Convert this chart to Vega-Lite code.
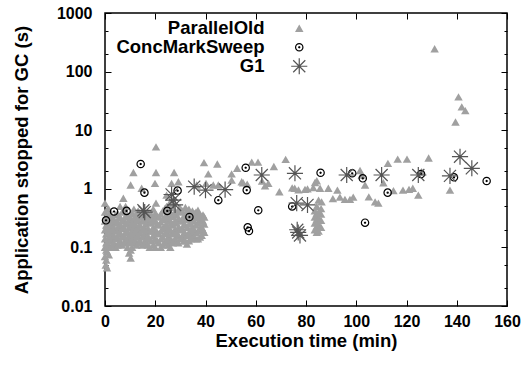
{
"$schema": "https://vega.github.io/schema/vega-lite/v6.json",
"width": 402, "height": 293,
"autosize": {"type": "none"},
"padding": {"left": 105, "top": 13, "right": 19, "bottom": 59},
"config": {
  "font": "Liberation Sans",
  "view": {"stroke": "#000", "strokeWidth": 1.5},
  "axis": {"domain": false, "grid": false, "tickColor": "#000", "tickWidth": 1, "labelColor": "#000", "titleColor": "#000", "labelFont": "Liberation Sans", "labelFontWeight": "bold", "labelFontSize": 16, "titleFont": "Liberation Sans", "titleFontWeight": "bold", "titleFontSize": 18.5},
  "legend": {"labelFont": "Liberation Sans"}
},
"datasets": {
  "frame": [{"min": 0, "sec": 1}],
  "gc": [
{"gc":"ParallelOld","min":0,"sec":0.07},{"gc":"ParallelOld","min":0,"sec":0.1},{"gc":"ParallelOld","min":0,"sec":0.14},{"gc":"ParallelOld","min":0,"sec":0.2},{"gc":"ParallelOld","min":0,"sec":0.28},{"gc":"ParallelOld","min":0,"sec":0.4},{"gc":"ParallelOld","min":0,"sec":0.57},
{"gc":"ParallelOld","min":0.3,"sec":0.05},{"gc":"ParallelOld","min":0.8,"sec":0.045},
{"gc":"ParallelOld","min":0.5,"sec":0.061},{"gc":"ParallelOld","min":0.5,"sec":0.09},{"gc":"ParallelOld","min":0.5,"sec":0.12},{"gc":"ParallelOld","min":0.5,"sec":0.17},{"gc":"ParallelOld","min":0.5,"sec":0.24},{"gc":"ParallelOld","min":0.5,"sec":0.33},
{"gc":"ParallelOld","min":0.8,"sec":0.085},{"gc":"ParallelOld","min":0.8,"sec":0.12},{"gc":"ParallelOld","min":0.8,"sec":0.17},{"gc":"ParallelOld","min":0.8,"sec":0.24},{"gc":"ParallelOld","min":0.8,"sec":0.34},
{"gc":"ParallelOld","min":1.5,"sec":0.075},{"gc":"ParallelOld","min":1.5,"sec":0.11},{"gc":"ParallelOld","min":1.5,"sec":0.15},{"gc":"ParallelOld","min":1.5,"sec":0.21},{"gc":"ParallelOld","min":1.5,"sec":0.3},{"gc":"ParallelOld","min":1.5,"sec":0.45},
{"gc":"ParallelOld","min":2,"sec":0.1},{"gc":"ParallelOld","min":2,"sec":0.14},{"gc":"ParallelOld","min":2,"sec":0.2},{"gc":"ParallelOld","min":2,"sec":0.28},{"gc":"ParallelOld","min":2,"sec":0.38},
{"gc":"ParallelOld","min":2.5,"sec":0.13},{"gc":"ParallelOld","min":2.5,"sec":0.18},{"gc":"ParallelOld","min":2.5,"sec":0.25},{"gc":"ParallelOld","min":2.5,"sec":0.35},
{"gc":"ParallelOld","min":3,"sec":0.11},{"gc":"ParallelOld","min":3,"sec":0.15},{"gc":"ParallelOld","min":3,"sec":0.21},{"gc":"ParallelOld","min":3,"sec":0.29},
{"gc":"ParallelOld","min":3.5,"sec":0.12},{"gc":"ParallelOld","min":3.5,"sec":0.16},{"gc":"ParallelOld","min":3.5,"sec":0.22},{"gc":"ParallelOld","min":3.5,"sec":0.3},
{"gc":"ParallelOld","min":4.2,"sec":0.1},{"gc":"ParallelOld","min":4.2,"sec":0.14},{"gc":"ParallelOld","min":4.2,"sec":0.19},{"gc":"ParallelOld","min":4.2,"sec":0.26},{"gc":"ParallelOld","min":4.2,"sec":0.36},
{"gc":"ParallelOld","min":5,"sec":0.11},{"gc":"ParallelOld","min":5,"sec":0.15},{"gc":"ParallelOld","min":5,"sec":0.2},{"gc":"ParallelOld","min":5,"sec":0.27},{"gc":"ParallelOld","min":5,"sec":0.38},
{"gc":"ParallelOld","min":5.5,"sec":0.12},{"gc":"ParallelOld","min":5.5,"sec":0.17},{"gc":"ParallelOld","min":5.5,"sec":0.23},{"gc":"ParallelOld","min":5.5,"sec":0.32},
{"gc":"ParallelOld","min":6,"sec":0.13},{"gc":"ParallelOld","min":6,"sec":0.18},{"gc":"ParallelOld","min":6,"sec":0.25},{"gc":"ParallelOld","min":6,"sec":0.33},{"gc":"ParallelOld","min":6,"sec":0.5},
{"gc":"ParallelOld","min":6.8,"sec":0.11},{"gc":"ParallelOld","min":6.8,"sec":0.15},{"gc":"ParallelOld","min":6.8,"sec":0.21},{"gc":"ParallelOld","min":6.8,"sec":0.28},{"gc":"ParallelOld","min":6.8,"sec":0.4},
{"gc":"ParallelOld","min":7.5,"sec":0.12},{"gc":"ParallelOld","min":7.5,"sec":0.16},{"gc":"ParallelOld","min":7.5,"sec":0.22},{"gc":"ParallelOld","min":7.5,"sec":0.3},{"gc":"ParallelOld","min":7.5,"sec":0.42},{"gc":"ParallelOld","min":7.3,"sec":0.69},
{"gc":"ParallelOld","min":8.2,"sec":0.13},{"gc":"ParallelOld","min":8.2,"sec":0.18},{"gc":"ParallelOld","min":8.2,"sec":0.25},{"gc":"ParallelOld","min":8.2,"sec":0.34},{"gc":"ParallelOld","min":8.2,"sec":0.5},
{"gc":"ParallelOld","min":9,"sec":0.1},{"gc":"ParallelOld","min":9,"sec":0.14},{"gc":"ParallelOld","min":9,"sec":0.19},{"gc":"ParallelOld","min":9,"sec":0.26},{"gc":"ParallelOld","min":9,"sec":0.36},
{"gc":"ParallelOld","min":9.6,"sec":0.08},{"gc":"ParallelOld","min":9.6,"sec":0.12},{"gc":"ParallelOld","min":9.6,"sec":0.16},{"gc":"ParallelOld","min":9.6,"sec":0.22},{"gc":"ParallelOld","min":9.6,"sec":0.3},
{"gc":"ParallelOld","min":10.2,"sec":0.066},{"gc":"ParallelOld","min":10.2,"sec":0.09},{"gc":"ParallelOld","min":10.2,"sec":0.13},{"gc":"ParallelOld","min":10.2,"sec":0.17},{"gc":"ParallelOld","min":10.2,"sec":0.24},{"gc":"ParallelOld","min":10.2,"sec":0.32},
{"gc":"ParallelOld","min":10.8,"sec":0.1},{"gc":"ParallelOld","min":10.8,"sec":0.14},{"gc":"ParallelOld","min":10.8,"sec":0.19},{"gc":"ParallelOld","min":10.8,"sec":0.27},{"gc":"ParallelOld","min":10.8,"sec":0.38},
{"gc":"ParallelOld","min":11.5,"sec":0.12},{"gc":"ParallelOld","min":11.5,"sec":0.16},{"gc":"ParallelOld","min":11.5,"sec":0.22},{"gc":"ParallelOld","min":11.5,"sec":0.3},{"gc":"ParallelOld","min":11.5,"sec":0.45},
{"gc":"ParallelOld","min":12,"sec":0.13},{"gc":"ParallelOld","min":12,"sec":0.18},{"gc":"ParallelOld","min":12,"sec":0.25},{"gc":"ParallelOld","min":12,"sec":0.34},
{"gc":"ParallelOld","min":12.5,"sec":0.11},{"gc":"ParallelOld","min":12.5,"sec":0.15},{"gc":"ParallelOld","min":12.5,"sec":0.2},{"gc":"ParallelOld","min":12.5,"sec":0.28},{"gc":"ParallelOld","min":12.5,"sec":0.38},
{"gc":"ParallelOld","min":13.2,"sec":0.12},{"gc":"ParallelOld","min":13.2,"sec":0.16},{"gc":"ParallelOld","min":13.2,"sec":0.22},{"gc":"ParallelOld","min":13.2,"sec":0.3},{"gc":"ParallelOld","min":13.2,"sec":0.42},
{"gc":"ParallelOld","min":14,"sec":0.13},{"gc":"ParallelOld","min":14,"sec":0.18},{"gc":"ParallelOld","min":14,"sec":0.24},{"gc":"ParallelOld","min":14,"sec":0.34},
{"gc":"ParallelOld","min":14.8,"sec":0.11},{"gc":"ParallelOld","min":14.8,"sec":0.15},{"gc":"ParallelOld","min":14.8,"sec":0.2},{"gc":"ParallelOld","min":14.8,"sec":0.28},{"gc":"ParallelOld","min":14.8,"sec":0.38},
{"gc":"ParallelOld","min":15.5,"sec":0.12},{"gc":"ParallelOld","min":15.5,"sec":0.16},{"gc":"ParallelOld","min":15.5,"sec":0.22},{"gc":"ParallelOld","min":15.5,"sec":0.3},
{"gc":"ParallelOld","min":16.2,"sec":0.13},{"gc":"ParallelOld","min":16.2,"sec":0.18},{"gc":"ParallelOld","min":16.2,"sec":0.25},{"gc":"ParallelOld","min":16.2,"sec":0.35},
{"gc":"ParallelOld","min":17,"sec":0.11},{"gc":"ParallelOld","min":17,"sec":0.15},{"gc":"ParallelOld","min":17,"sec":0.21},{"gc":"ParallelOld","min":17,"sec":0.29},{"gc":"ParallelOld","min":17,"sec":0.4},
{"gc":"ParallelOld","min":17.8,"sec":0.1},{"gc":"ParallelOld","min":17.8,"sec":0.14},{"gc":"ParallelOld","min":17.8,"sec":0.19},{"gc":"ParallelOld","min":17.8,"sec":0.26},{"gc":"ParallelOld","min":17.8,"sec":0.34},
{"gc":"ParallelOld","min":18.5,"sec":0.13},{"gc":"ParallelOld","min":18.5,"sec":0.19},{"gc":"ParallelOld","min":18.5,"sec":0.27},{"gc":"ParallelOld","min":18.5,"sec":0.36},
{"gc":"ParallelOld","min":19.2,"sec":0.11},{"gc":"ParallelOld","min":19.2,"sec":0.16},{"gc":"ParallelOld","min":19.2,"sec":0.22},{"gc":"ParallelOld","min":19.2,"sec":0.31},{"gc":"ParallelOld","min":19.2,"sec":0.45},
{"gc":"ParallelOld","min":20,"sec":0.1},{"gc":"ParallelOld","min":20,"sec":0.14},{"gc":"ParallelOld","min":20,"sec":0.2},{"gc":"ParallelOld","min":20,"sec":0.28},{"gc":"ParallelOld","min":20,"sec":0.38},{"gc":"ParallelOld","min":20.3,"sec":0.57},
{"gc":"ParallelOld","min":20.8,"sec":0.13},{"gc":"ParallelOld","min":20.8,"sec":0.18},{"gc":"ParallelOld","min":20.8,"sec":0.25},{"gc":"ParallelOld","min":20.8,"sec":0.34},
{"gc":"ParallelOld","min":21.5,"sec":0.12},{"gc":"ParallelOld","min":21.5,"sec":0.17},{"gc":"ParallelOld","min":21.5,"sec":0.24},{"gc":"ParallelOld","min":21.5,"sec":0.33},
{"gc":"ParallelOld","min":22.2,"sec":0.1},{"gc":"ParallelOld","min":22.2,"sec":0.14},{"gc":"ParallelOld","min":22.2,"sec":0.19},{"gc":"ParallelOld","min":22.2,"sec":0.27},{"gc":"ParallelOld","min":22.2,"sec":0.37},
{"gc":"ParallelOld","min":23,"sec":0.11},{"gc":"ParallelOld","min":23,"sec":0.15},{"gc":"ParallelOld","min":23,"sec":0.21},{"gc":"ParallelOld","min":23,"sec":0.3},{"gc":"ParallelOld","min":23,"sec":0.42},
{"gc":"ParallelOld","min":23.8,"sec":0.12},{"gc":"ParallelOld","min":23.8,"sec":0.17},{"gc":"ParallelOld","min":23.8,"sec":0.23},{"gc":"ParallelOld","min":23.8,"sec":0.32},{"gc":"ParallelOld","min":23.8,"sec":0.46},
{"gc":"ParallelOld","min":24.5,"sec":0.13},{"gc":"ParallelOld","min":24.5,"sec":0.18},{"gc":"ParallelOld","min":24.5,"sec":0.25},{"gc":"ParallelOld","min":24.5,"sec":0.35},{"gc":"ParallelOld","min":24.5,"sec":0.5},
{"gc":"ParallelOld","min":25.2,"sec":0.11},{"gc":"ParallelOld","min":25.2,"sec":0.15},{"gc":"ParallelOld","min":25.2,"sec":0.21},{"gc":"ParallelOld","min":25.2,"sec":0.3},{"gc":"ParallelOld","min":25.2,"sec":0.42},
{"gc":"ParallelOld","min":26,"sec":0.1},{"gc":"ParallelOld","min":26,"sec":0.14},{"gc":"ParallelOld","min":26,"sec":0.2},{"gc":"ParallelOld","min":26,"sec":0.28},{"gc":"ParallelOld","min":26,"sec":0.4},{"gc":"ParallelOld","min":26,"sec":0.6},
{"gc":"ParallelOld","min":26.6,"sec":0.13},{"gc":"ParallelOld","min":26.6,"sec":0.18},{"gc":"ParallelOld","min":26.6,"sec":0.26},{"gc":"ParallelOld","min":26.6,"sec":0.36},{"gc":"ParallelOld","min":26.6,"sec":0.52},
{"gc":"ParallelOld","min":27,"sec":0.12},{"gc":"ParallelOld","min":27,"sec":0.17},{"gc":"ParallelOld","min":27,"sec":0.24},{"gc":"ParallelOld","min":27,"sec":0.34},{"gc":"ParallelOld","min":27,"sec":0.48},
{"gc":"ParallelOld","min":27.8,"sec":0.14},{"gc":"ParallelOld","min":27.8,"sec":0.2},{"gc":"ParallelOld","min":27.8,"sec":0.28},{"gc":"ParallelOld","min":27.8,"sec":0.4},
{"gc":"ParallelOld","min":28.5,"sec":0.13},{"gc":"ParallelOld","min":28.5,"sec":0.18},{"gc":"ParallelOld","min":28.5,"sec":0.26},{"gc":"ParallelOld","min":28.5,"sec":0.36},
{"gc":"ParallelOld","min":29.2,"sec":0.12},{"gc":"ParallelOld","min":29.2,"sec":0.16},{"gc":"ParallelOld","min":29.2,"sec":0.22},{"gc":"ParallelOld","min":29.2,"sec":0.31},{"gc":"ParallelOld","min":29.2,"sec":0.44},
{"gc":"ParallelOld","min":30,"sec":0.14},{"gc":"ParallelOld","min":30,"sec":0.2},{"gc":"ParallelOld","min":30,"sec":0.28},{"gc":"ParallelOld","min":30,"sec":0.4},
{"gc":"ParallelOld","min":30.8,"sec":0.15},{"gc":"ParallelOld","min":30.8,"sec":0.21},{"gc":"ParallelOld","min":30.8,"sec":0.3},{"gc":"ParallelOld","min":30.8,"sec":0.42},
{"gc":"ParallelOld","min":31.5,"sec":0.13},{"gc":"ParallelOld","min":31.5,"sec":0.18},{"gc":"ParallelOld","min":31.5,"sec":0.25},{"gc":"ParallelOld","min":31.5,"sec":0.35},
{"gc":"ParallelOld","min":32,"sec":0.13},{"gc":"ParallelOld","min":32,"sec":0.17},{"gc":"ParallelOld","min":32,"sec":0.24},{"gc":"ParallelOld","min":32,"sec":0.33},{"gc":"ParallelOld","min":32,"sec":0.48},
{"gc":"ParallelOld","min":32.6,"sec":0.114},{"gc":"ParallelOld","min":32.8,"sec":0.16},{"gc":"ParallelOld","min":32.8,"sec":0.22},{"gc":"ParallelOld","min":32.8,"sec":0.3},{"gc":"ParallelOld","min":32.8,"sec":0.42},
{"gc":"ParallelOld","min":33.4,"sec":0.13},{"gc":"ParallelOld","min":33.4,"sec":0.18},{"gc":"ParallelOld","min":33.4,"sec":0.25},{"gc":"ParallelOld","min":33.4,"sec":0.34},{"gc":"ParallelOld","min":33.4,"sec":0.45},
{"gc":"ParallelOld","min":34,"sec":0.14},{"gc":"ParallelOld","min":34,"sec":0.19},{"gc":"ParallelOld","min":34,"sec":0.26},{"gc":"ParallelOld","min":34,"sec":0.36},
{"gc":"ParallelOld","min":34.8,"sec":0.16},{"gc":"ParallelOld","min":34.8,"sec":0.22},{"gc":"ParallelOld","min":34.8,"sec":0.31},{"gc":"ParallelOld","min":34.8,"sec":0.42},
{"gc":"ParallelOld","min":35.5,"sec":0.15},{"gc":"ParallelOld","min":35.5,"sec":0.2},{"gc":"ParallelOld","min":35.5,"sec":0.28},{"gc":"ParallelOld","min":35.5,"sec":0.38},
{"gc":"ParallelOld","min":36.2,"sec":0.14},{"gc":"ParallelOld","min":36.2,"sec":0.18},{"gc":"ParallelOld","min":36.2,"sec":0.24},{"gc":"ParallelOld","min":36.2,"sec":0.32},{"gc":"ParallelOld","min":36.2,"sec":0.4},
{"gc":"ParallelOld","min":37,"sec":0.14},{"gc":"ParallelOld","min":37,"sec":0.19},{"gc":"ParallelOld","min":37,"sec":0.26},{"gc":"ParallelOld","min":37,"sec":0.34},{"gc":"ParallelOld","min":37,"sec":0.43},
{"gc":"ParallelOld","min":37.8,"sec":0.15},{"gc":"ParallelOld","min":37.8,"sec":0.21},{"gc":"ParallelOld","min":37.8,"sec":0.28},{"gc":"ParallelOld","min":37.8,"sec":0.36},
{"gc":"ParallelOld","min":38.5,"sec":0.16},{"gc":"ParallelOld","min":38.5,"sec":0.22},{"gc":"ParallelOld","min":38.5,"sec":0.3},
{"gc":"ParallelOld","min":39,"sec":0.2},{"gc":"ParallelOld","min":39,"sec":0.28},{"gc":"ParallelOld","min":39,"sec":0.36},
{"gc":"ParallelOld","min":39.5,"sec":0.18},{"gc":"ParallelOld","min":39.5,"sec":0.25},{"gc":"ParallelOld","min":39.5,"sec":0.33},
{"gc":"ParallelOld","min":83.5,"sec":0.2},{"gc":"ParallelOld","min":83.5,"sec":0.26},{"gc":"ParallelOld","min":83.5,"sec":0.33},{"gc":"ParallelOld","min":83.5,"sec":0.42},
{"gc":"ParallelOld","min":84.3,"sec":0.18},{"gc":"ParallelOld","min":84.3,"sec":0.23},{"gc":"ParallelOld","min":84.3,"sec":0.3},{"gc":"ParallelOld","min":84.3,"sec":0.38},{"gc":"ParallelOld","min":84.3,"sec":0.5},
{"gc":"ParallelOld","min":85,"sec":0.19},{"gc":"ParallelOld","min":85,"sec":0.25},{"gc":"ParallelOld","min":85,"sec":0.32},{"gc":"ParallelOld","min":85,"sec":0.4},{"gc":"ParallelOld","min":85,"sec":0.64},
{"gc":"ParallelOld","min":86,"sec":0.22},{"gc":"ParallelOld","min":86,"sec":0.29},{"gc":"ParallelOld","min":86,"sec":0.37},{"gc":"ParallelOld","min":86,"sec":0.46},{"gc":"ParallelOld","min":86.2,"sec":0.6},
{"gc":"ParallelOld","min":1,"sec":0.45},{"gc":"ParallelOld","min":10.2,"sec":1.16},{"gc":"ParallelOld","min":11.3,"sec":1.9},{"gc":"ParallelOld","min":14.6,"sec":1.02},{"gc":"ParallelOld","min":19.9,"sec":1.24},{"gc":"ParallelOld","min":20.3,"sec":5.2},{"gc":"ParallelOld","min":20.3,"sec":1.9},{"gc":"ParallelOld","min":24.5,"sec":0.78},{"gc":"ParallelOld","min":26.5,"sec":1.24},{"gc":"ParallelOld","min":27.5,"sec":1.9},{"gc":"ParallelOld","min":29.2,"sec":1.32},{"gc":"ParallelOld","min":29.9,"sec":0.47},{"gc":"ParallelOld","min":36.5,"sec":1.16},{"gc":"ParallelOld","min":39.4,"sec":2.8},{"gc":"ParallelOld","min":40.2,"sec":1.24},{"gc":"ParallelOld","min":41.1,"sec":1.8},{"gc":"ParallelOld","min":43.1,"sec":1.16},{"gc":"ParallelOld","min":44.7,"sec":2.65},{"gc":"ParallelOld","min":45.1,"sec":1.16},{"gc":"ParallelOld","min":50.4,"sec":1.8},{"gc":"ParallelOld","min":50.4,"sec":1.41},{"gc":"ParallelOld","min":52.6,"sec":2.24},{"gc":"ParallelOld","min":54.4,"sec":1.32},{"gc":"ParallelOld","min":55,"sec":1.27},{"gc":"ParallelOld","min":56.6,"sec":1.2},{"gc":"ParallelOld","min":58.4,"sec":2.85},{"gc":"ParallelOld","min":60.9,"sec":2.85},{"gc":"ParallelOld","min":62.5,"sec":1.35},{"gc":"ParallelOld","min":63.7,"sec":1.12},{"gc":"ParallelOld","min":65,"sec":1.24},{"gc":"ParallelOld","min":67.2,"sec":2.4},{"gc":"ParallelOld","min":69.4,"sec":0.89},{"gc":"ParallelOld","min":71.9,"sec":3.18},{"gc":"ParallelOld","min":74.5,"sec":1.04},{"gc":"ParallelOld","min":75.5,"sec":1.02},{"gc":"ParallelOld","min":77,"sec":0.96},{"gc":"ParallelOld","min":79.6,"sec":0.98},{"gc":"ParallelOld","min":80.6,"sec":1.0},{"gc":"ParallelOld","min":82.9,"sec":1.05},{"gc":"ParallelOld","min":83.6,"sec":1.28},{"gc":"ParallelOld","min":84.3,"sec":1.37},{"gc":"ParallelOld","min":85.6,"sec":1.02},{"gc":"ParallelOld","min":88.9,"sec":1.02},{"gc":"ParallelOld","min":90.7,"sec":0.68},{"gc":"ParallelOld","min":92.5,"sec":0.95},{"gc":"ParallelOld","min":93.5,"sec":0.72},{"gc":"ParallelOld","min":95.5,"sec":0.66},{"gc":"ParallelOld","min":97.5,"sec":0.66},{"gc":"ParallelOld","min":98.8,"sec":0.72},{"gc":"ParallelOld","min":101.5,"sec":2.05},{"gc":"ParallelOld","min":102.2,"sec":1.72},{"gc":"ParallelOld","min":103.5,"sec":1.16},{"gc":"ParallelOld","min":105,"sec":0.73},{"gc":"ParallelOld","min":107.5,"sec":0.6},{"gc":"ParallelOld","min":108.8,"sec":0.57},{"gc":"ParallelOld","min":110.8,"sec":1.27},{"gc":"ParallelOld","min":112.6,"sec":2.72},{"gc":"ParallelOld","min":114.8,"sec":0.93},{"gc":"ParallelOld","min":116.5,"sec":3.2},{"gc":"ParallelOld","min":118.6,"sec":0.95},{"gc":"ParallelOld","min":120.2,"sec":3.2},{"gc":"ParallelOld","min":121,"sec":0.98},{"gc":"ParallelOld","min":122.5,"sec":1.02},{"gc":"ParallelOld","min":124.7,"sec":0.78},{"gc":"ParallelOld","min":126,"sec":1.96},{"gc":"ParallelOld","min":128.8,"sec":3.35},{"gc":"ParallelOld","min":131.2,"sec":245},{"gc":"ParallelOld","min":137.3,"sec":0.95},{"gc":"ParallelOld","min":139.5,"sec":13.8},{"gc":"ParallelOld","min":140.7,"sec":37},{"gc":"ParallelOld","min":142,"sec":25},{"gc":"ParallelOld","min":143.4,"sec":21.6},
{"gc":"ConcMarkSweep","min":0.4,"sec":0.29},{"gc":"ConcMarkSweep","min":3.6,"sec":0.41},{"gc":"ConcMarkSweep","min":8.6,"sec":0.42},{"gc":"ConcMarkSweep","min":14.2,"sec":2.65},{"gc":"ConcMarkSweep","min":15.7,"sec":0.86},{"gc":"ConcMarkSweep","min":24.8,"sec":0.42},{"gc":"ConcMarkSweep","min":28.9,"sec":0.93},{"gc":"ConcMarkSweep","min":33.6,"sec":0.33},{"gc":"ConcMarkSweep","min":45.1,"sec":0.64},{"gc":"ConcMarkSweep","min":56,"sec":2.29},{"gc":"ConcMarkSweep","min":56.4,"sec":0.95},{"gc":"ConcMarkSweep","min":56.8,"sec":0.22},{"gc":"ConcMarkSweep","min":57.3,"sec":0.19},{"gc":"ConcMarkSweep","min":61,"sec":0.43},{"gc":"ConcMarkSweep","min":74.5,"sec":0.5},{"gc":"ConcMarkSweep","min":85.8,"sec":1.88},{"gc":"ConcMarkSweep","min":98.4,"sec":1.84},{"gc":"ConcMarkSweep","min":102.6,"sec":1.51},{"gc":"ConcMarkSweep","min":103.5,"sec":0.264},{"gc":"ConcMarkSweep","min":112.5,"sec":0.86},{"gc":"ConcMarkSweep","min":125.8,"sec":1.79},{"gc":"ConcMarkSweep","min":138.9,"sec":1.57},{"gc":"ConcMarkSweep","min":151.9,"sec":1.36},
{"gc":"G1","min":15.3,"sec":0.43},{"gc":"G1","min":15.8,"sec":0.4},{"gc":"G1","min":26.5,"sec":0.8},{"gc":"G1","min":27.2,"sec":0.64},{"gc":"G1","min":27.9,"sec":0.53},{"gc":"G1","min":35.5,"sec":1.09},{"gc":"G1","min":40,"sec":0.95},{"gc":"G1","min":47.8,"sec":0.97},{"gc":"G1","min":62.4,"sec":1.72},{"gc":"G1","min":75.6,"sec":1.84},{"gc":"G1","min":76.3,"sec":0.57},{"gc":"G1","min":80.6,"sec":0.53},{"gc":"G1","min":76.5,"sec":0.2},{"gc":"G1","min":76.9,"sec":0.18},{"gc":"G1","min":77.6,"sec":0.16},{"gc":"G1","min":96.2,"sec":1.72},{"gc":"G1","min":110.1,"sec":1.72},{"gc":"G1","min":124.7,"sec":1.72},{"gc":"G1","min":137.3,"sec":1.66},{"gc":"G1","min":141.3,"sec":3.53},{"gc":"G1","min":146,"sec":2.24}
  ]
},
"layer": [
  {
    "data": {"name": "gc"},
    "mark": {"type": "point", "filled": true, "strokeWidth": 1.2, "opacity": 1},
    "encoding": {
      "x": {"field": "min", "type": "quantitative", "scale": {"domain": [0, 160], "nice": false, "zero": false},
        "axis": {"orient": "bottom", "title": "Execution time (min)", "values": [0,20,40,60,80,100,120,140,160], "format": "d", "tickSize": -6, "labelPadding": 13, "labelFlush": false, "titlePadding": 2}},
      "y": {"field": "sec", "type": "quantitative", "scale": {"type": "log", "domain": [0.01, 1000], "nice": false},
        "axis": {"orient": "left", "title": "Application stopped for GC (s)", "values": [0.01,0.02,0.05,0.1,0.2,0.5,1,2,5,10,20,50,100,200,500,1000], "format": "~g",
          "labelExpr": "indexof([0.01,0.1,1,10,100,1000], datum.value) >= 0 ? datum.label : ''",
          "tickSize": {"condition": {"test": "indexof([0.01,0.1,1,10,100,1000], datum.value) >= 0", "value": -6}, "value": -3},
          "labelPadding": 19, "titlePadding": 25, "labelFlush": false}},
      "fill": {"field": "gc", "type": "nominal", "scale": {"type": "ordinal", "domain": ["ParallelOld", "ConcMarkSweep", "G1"], "range": ["#a0a0a0", "transparent", "transparent"]},
        "legend": {"orient": "none", "legendX": 185, "legendY": 6, "title": null, "labelAlign": "right", "labelOffset": -44, "labelFontSize": 18.5, "labelFontWeight": "bold", "labelColor": "#000", "rowPadding": -10, "padding": 0, "symbolStrokeWidth": 1.2}},
      "stroke": {"field": "gc", "type": "nominal", "scale": {"type": "ordinal", "domain": ["ParallelOld", "ConcMarkSweep", "G1"], "range": ["transparent", "#000000", "#555555"]}},
      "shape": {"field": "gc", "type": "nominal", "scale": {"domain": ["ParallelOld", "ConcMarkSweep", "G1"], "range": ["triangle-up", "M-1,0A1,1 0 1,0 1,0A1,1 0 1,0 -1,0ZM-0.15,0A0.15,0.15 0 1,0 0.15,0A0.15,0.15 0 1,0 -0.15,0Z", "M-1,0L1,0M0,-1L0,1M-0.75,-0.75L0.75,0.75M-0.75,0.75L0.75,-0.75"]}},
      "size": {"field": "gc", "type": "nominal", "scale": {"type": "ordinal", "domain": ["ParallelOld", "ConcMarkSweep", "G1"], "range": [72, 54, 260]}}
    }
  },
  {
    "data": {"name": "frame"},
    "mark": {"type": "point", "opacity": 0},
    "encoding": {
      "x": {"field": "min", "type": "quantitative", "axis": {"orient": "top", "title": null, "labels": false, "values": [0,20,40,60,80,100,120,140,160], "tickSize": -6}},
      "y": {"field": "sec", "type": "quantitative", "axis": {"orient": "right", "title": null, "labels": false, "values": [0.01,0.02,0.05,0.1,0.2,0.5,1,2,5,10,20,50,100,200,500,1000],
        "tickSize": {"condition": {"test": "indexof([0.01,0.1,1,10,100,1000], datum.value) >= 0", "value": -6}, "value": -3}}}
    }
  }
],
"resolve": {"axis": {"x": "independent", "y": "independent"}}
}
